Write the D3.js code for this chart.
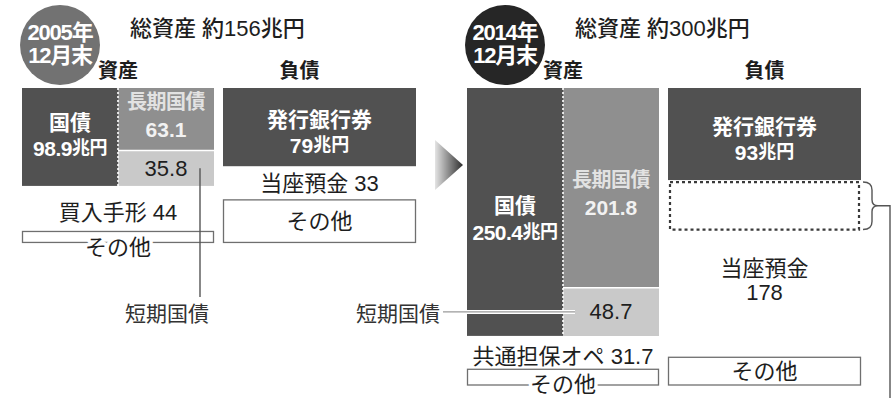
<!DOCTYPE html>
<html><head><meta charset="utf-8">
<script src="https://cdn.jsdelivr.net/npm/d3@7"></script>
<style>
body{margin:0;background:#fff;}
svg{display:block;}
text{font-family:"Liberation Sans","Noto Sans CJK JP",sans-serif;}
</style></head><body>
<svg id="c" width="893" height="398"></svg>
<script>
// ---- data (兆円) ----
const periods = ["2005年", "2014年"];
const periodSub = ["12月末", "12月末"];
const titles = ["総資産 約156兆円", "総資産 約300兆円"];
const totalAssets = [156, 300];
const jgbTotal = [98.9, 250.4];
const jgbLong = [63.1, 201.8];
const jgbShort = [35.8, 48.7];
const otherAssetNames = ["買入手形", "共通担保オペ"];
const otherAssetValues = [44, 31.7];
const assetRest = [13.1, 17.9];
const banknotes = [79, 93];
const currentDeposits = [33, 178];
const liabRest = [44, 29];
const highlight2014 = [95, 143];   // dotted block inside 2014 当座預金 (cumulative)

// ---- layout ----
const svg = d3.select("#c");
const y = d3.scaleLinear().domain([0, 300]).range([88, 385]);
const panelX = [22, 467];
const colW = 96, liabDx = 201, liabW = 193;
const badgeFill = ["#727272", "#262626"];
const dark = "#515151", mid = "#8f8f8f", light = "#c9c9c9";
const jgbDy = [[-14, 11], [-6, 20]];
const longDy = [[-17, 10], [-8, 20]];

const defs = svg.append("defs");
const grad = defs.append("linearGradient").attr("id", "arr").attr("x1", 0).attr("x2", 1);
grad.append("stop").attr("offset", 0).attr("stop-color", "#e4e4e4");
grad.append("stop").attr("offset", 1).attr("stop-color", "#2e2e2e");

function txt(g, x, yy, s, o = {}) {
  const t = g.append("text").attr("x", x).attr("y", yy)
    .attr("text-anchor", o.anchor || "middle")
    .attr("dominant-baseline", "central")
    .attr("font-size", o.size || 21)
    .attr("font-weight", o.bold ? "bold" : (o.weight || "normal"))
    .attr("fill", o.fill || "#1e1e1e");
  if (o.halo) t.attr("stroke", "#fff").attr("stroke-width", 7).attr("paint-order", "stroke").attr("stroke-linejoin", "round");
  if (o.ls) t.attr("letter-spacing", o.ls);
  t.text(s);
  return t;
}

periods.forEach((p, i) => {
  const x0 = panelX[i];
  const g = svg.append("g");

  // badge
  g.append("circle").attr("cx", x0 + 38).attr("cy", 45).attr("r", 40).attr("fill", badgeFill[i]);
  txt(g, x0 + 38, 32, p, {bold: true, fill: "#fff", size: 22, ls: -1.2});
  txt(g, x0 + 38, 55, periodSub[i], {bold: true, fill: "#fff", size: 22, ls: -1.2});

  // title and headers
  txt(g, x0 + 108, 28, titles[i], {anchor: "start", size: 22, weight: 500});
  txt(g, x0 + 96, 71, "資産", {bold: true, size: 20});
  txt(g, x0 + liabDx + liabW / 2 - (i === 0 ? 20 : 0), 71, "負債", {bold: true, size: 20});

  // ---- assets ----
  g.append("rect").attr("x", x0).attr("y", y(0)).attr("width", colW)
    .attr("height", y(jgbTotal[i]) - y(0)).attr("fill", dark);
  g.append("rect").attr("x", x0 + colW).attr("y", y(0)).attr("width", colW)
    .attr("height", y(jgbLong[i]) - y(0)).attr("fill", mid);
  g.append("rect").attr("x", x0 + colW).attr("y", y(jgbLong[i])).attr("width", colW)
    .attr("height", y(jgbLong[i] + jgbShort[i]) - y(jgbLong[i])).attr("fill", light);
  g.append("line").attr("x1", x0 + colW).attr("x2", x0 + colW)
    .attr("y1", y(0)).attr("y2", y(jgbTotal[i]))
    .attr("stroke", "#fff").attr("stroke-width", 1.6).attr("stroke-dasharray", "2,2");
  g.append("line").attr("x1", x0 + colW).attr("x2", x0 + 2 * colW)
    .attr("y1", y(jgbLong[i])).attr("y2", y(jgbLong[i]))
    .attr("stroke", "#fff").attr("stroke-width", 1.5);

  const jm = (y(0) + y(jgbTotal[i])) / 2;
  txt(g, x0 + colW / 2, jm + jgbDy[i][0], "国債", {bold: true, fill: "#fff"});
  const t1 = txt(g, x0 + colW / 2, jm + jgbDy[i][1], "", {bold: true, fill: "#fff", ls: -0.5});
  t1.append("tspan").text(d3.format(".1f")(jgbTotal[i]));
  t1.append("tspan").attr("font-size", 18).text("兆円");

  const lm = (y(0) + y(jgbLong[i])) / 2;
  txt(g, x0 + colW * 1.5, lm + longDy[i][0], "長期国債", {bold: true, fill: "#e2e2e2", size: 20, ls: -0.5});
  txt(g, x0 + colW * 1.5, lm + longDy[i][1], d3.format(".1f")(jgbLong[i]), {bold: true, fill: "#f2f2f2", size: 21});

  const sm = (y(jgbLong[i]) + y(jgbLong[i] + jgbShort[i])) / 2;
  txt(g, x0 + colW * 1.5, sm, d3.format(".1f")(jgbShort[i]), {size: 22});

  const oa0 = jgbTotal[i], oa1 = jgbTotal[i] + otherAssetValues[i];
  txt(g, x0 + colW, (y(oa0) + y(oa1)) / 2 + 5, otherAssetNames[i] + " " + otherAssetValues[i], {size: 22});

  const r1 = oa1 + assetRest[i];
  g.append("rect").attr("x", x0 + 0.5).attr("y", y(oa1) + 2).attr("width", 2 * colW - 1)
    .attr("height", y(r1) - y(oa1) - 2).attr("fill", "#fff").attr("stroke", "#6f6f6f").attr("stroke-width", 1.3);

  // leader lines for 短期国債
  if (i === 0) {
    g.append("line").attr("x1", x0 + 178).attr("x2", x0 + 178).attr("y1", sm).attr("y2", 297)
      .attr("stroke", "#555").attr("stroke-width", 1.4);
    txt(g, x0 + colW, y(r1) + 5, "その他", {halo: true, size: 22});
    txt(g, x0 + 145, 313, "短期国債", {fill: "#333"});
  } else {
    txt(g, x0 + colW, y(r1) - 1, "その他", {halo: true, size: 22});
    g.append("line").attr("x1", x0 - 24).attr("x2", x0 + 108).attr("y1", sm).attr("y2", sm)
      .attr("stroke", "#fff").attr("stroke-width", 4);
    g.append("line").attr("x1", x0 - 24).attr("x2", x0 + 108).attr("y1", sm).attr("y2", sm)
      .attr("stroke", "#9a9a9a").attr("stroke-width", 1.3);
    txt(g, x0 - 27, sm + 2, "短期国債", {anchor: "end", fill: "#333"});
  }

  // ---- liabilities ----
  const lx = x0 + liabDx, lc = lx + liabW / 2;
  g.append("rect").attr("x", lx).attr("y", y(0)).attr("width", liabW)
    .attr("height", y(banknotes[i]) - y(0)).attr("fill", dark);
  const bm = (y(0) + y(banknotes[i])) / 2;
  txt(g, lc, bm - 8, "発行銀行券", {bold: true, fill: "#fff"});
  const t2 = txt(g, lc, bm + 18, "", {bold: true, fill: "#fff"});
  t2.append("tspan").text(banknotes[i]);
  t2.append("tspan").attr("font-size", 18).text("兆円");

  const c0 = banknotes[i], c1 = banknotes[i] + currentDeposits[i];
  const cm = (y(c0) + y(c1)) / 2;
  if (i === 0) {
    txt(g, lc, cm + 1, "当座預金 " + currentDeposits[i], {size: 22});
  } else {
    g.append("rect").attr("x", lx + 2).attr("y", y(highlight2014[0]))
      .attr("width", liabW - 4).attr("height", y(highlight2014[1]) - y(highlight2014[0]))
      .attr("fill", "#fff").attr("stroke", "#3a3a3a").attr("stroke-width", 2.2)
      .attr("stroke-dasharray", "3,3");
    txt(g, lc, cm, "当座預金", {size: 22});
    txt(g, lc, cm + 24, String(currentDeposits[i]), {size: 22});
    // bracket
    const bt = y(highlight2014[0]), bb = y(highlight2014[1]), bmid = (bt + bb) / 2;
    const bx = lx + liabW + 2;
    g.append("path")
      .attr("d", `M${bx},${bt} Q${bx + 9},${bt} ${bx + 9},${bt + 8} L${bx + 9},${bmid - 6} Q${bx + 9},${bmid} ${bx + 15},${bmid} Q${bx + 9},${bmid} ${bx + 9},${bmid + 6} L${bx + 9},${bb - 8} Q${bx + 9},${bb} ${bx},${bb}`)
      .attr("fill", "none").attr("stroke", "#555").attr("stroke-width", 1.4);
    g.append("path").attr("d", `M${bx + 15},${bmid} H890 V398`)
      .attr("fill", "none").attr("stroke", "#555").attr("stroke-width", 1.4);
  }
  const e1 = c1 + liabRest[i];
  g.append("rect").attr("x", lx + 0.5).attr("y", y(c1) + 1).attr("width", liabW - 1)
    .attr("height", y(e1) - y(c1) - 1).attr("fill", "#fff").attr("stroke", "#6f6f6f").attr("stroke-width", 1.3);
  txt(g, lc, (y(c1) + y(e1)) / 2 + 1, "その他", {size: 22});
});

// arrow between periods
svg.append("path").attr("d", "M435,140 L463,165 L435,190 Z").attr("fill", "url(#arr)");
</script>
</body></html>
